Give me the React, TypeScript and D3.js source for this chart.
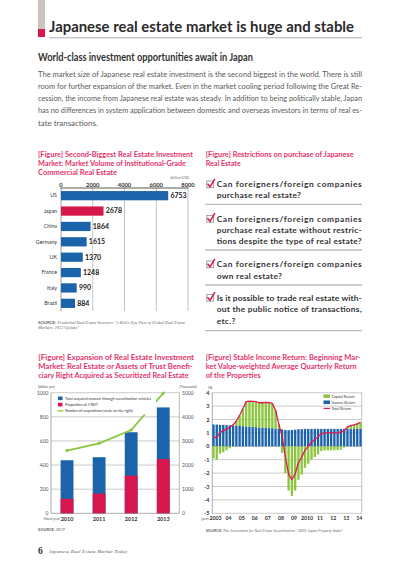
import React from 'react';
import * as d3 from 'd3';

// ---------- Data ----------
const countries = ['US', 'Japan', 'China', 'Germany', 'UK', 'France', 'Italy', 'Brazil'];
const marketVolume = [6753, 2678, 1864, 1615, 1370, 1248, 990, 884];
const volumeTicks = [0, 2000, 4000, 6000, 8000];

const fiscalYears = ['2010', '2011', '2012', '2013'];
const totalAcquired = [440, 465, 672, 878];
const jreitShare = [120, 163, 312, 450];
const acquisitions = [2600, 2900, 3450, 4980];
const leftTicks = [0, 200, 400, 600, 800, 1000];
const rightTicks = [0, 1000, 2000, 3000, 4000, 5000];

const years = ['2003', '2004', '2005', '2006', '2007', '2008', '2009', '2010', '2011', '2012', '2013', '2014'];
const yearLabels = ['2003', '04', '05', '06', '07', '08', '09', '2010', '11', '12', '13', '14'];
const quarters = years.flatMap((y) => ['Q1', 'Q2', 'Q3', 'Q4'].map((q) => y + q)).slice(0, 46);
const incomeReturn = [
  1.63, 1.62, 1.6, 1.6,
  1.58, 1.57, 1.55, 1.55,
  1.52, 1.5, 1.48, 1.47,
  1.45, 1.43, 1.4, 1.4,
  1.38, 1.36, 1.35, 1.33,
  1.3, 1.26, 1.22, 1.2,
  1.22, 1.24, 1.27, 1.28,
  1.3, 1.3, 1.3, 1.3,
  1.3, 1.3, 1.3, 1.3,
  1.3, 1.3, 1.3, 1.3,
  1.3, 1.3, 1.3, 1.3,
  1.3, 1.3,
];
const capitalReturn = [
  -0.9, -1.0, -0.55, -0.45,
  -0.3, -0.15, 0.05, 0.35,
  0.8, 1.3, 1.85, 1.9,
  1.9, 1.9, 1.85, 1.85,
  1.9, 1.9, 1.85, 1.35,
  0.35, -0.5, -2.0, -3.3,
  -3.7, -3.3, -2.5, -2.1,
  -1.6, -1.3, -1.0, -0.8,
  -0.6, -0.35, -0.3, -0.3,
  -0.3, -0.3, -0.28, -0.25,
  -0.1, 0.15, 0.25, 0.3,
  0.38, 0.48,
];
const totalReturn = [
  0.72, 0.62, 1.05, 1.15,
  1.28, 1.42, 1.6, 1.9,
  2.32, 2.8, 3.33, 3.37,
  3.35, 3.33, 3.25, 3.25,
  3.28, 3.26, 3.2, 2.68,
  1.65, 0.76, -0.78, -2.1,
  -2.48, -2.06, -1.23, -0.82,
  -0.3, 0.0, 0.3, 0.5,
  0.7, 0.95, 1.0, 1.0,
  1.0, 1.0, 1.02, 1.05,
  1.2, 1.45, 1.55, 1.6,
  1.68, 1.78,
];
const pctTicks = [4, 3, 2, 1, 0, -1, -2, -3, -4, -5];

const paragraph = [
  'The market size of Japanese real estate investment is the second biggest in the world. There is still',
  'room for further expansion of the market. Even in the market cooling period following the Great Re-',
  'cession, the income from Japanese real estate was steady. In addition to being politically stable, Japan',
  'has no differences in system application between domestic and overseas investors in terms of real es-',
  'tate transactions.',
];

const restrictions = [
  ['Can foreigners/foreign companies', 'purchase real estate?'],
  ['Can foreigners/foreign companies', 'purchase real estate without restric-', 'tions despite the type of real estate?'],
  ['Can foreigners/foreign companies', 'own real estate?'],
  ['Is it possible to trade real estate with-', 'out the public notice of transactions,', 'etc.?'],
];

// ---------- Style ----------
const SANS = 'Lato, "Noto Sans", sans-serif';
const SERIF = '"Liberation Serif", "DejaVu Serif", serif';
const PINK = '#e3346a';
const BLUE = '#1b63ab';
const RED = '#d7164c';
const GREEN = '#8cc63f';
const GRID = '#b5b5b5';

export default function App() {
  // chart 1
  const x1 = d3.scaleLinear().domain([0, 8000]).range([61, 188]);
  const y1 = d3.scaleBand().domain(countries).range([188, 311]).paddingInner(0.4).paddingOuter(0.2);

  // chart 3
  const yL = d3.scaleLinear().domain([0, 1000]).range([513.3, 392.7]);
  const yR = d3.scaleLinear().domain([0, 5000]).range([513.3, 392.7]);
  const xB = d3.scaleBand().domain(fiscalYears).range([51, 179.3]).paddingInner(0.6).paddingOuter(0.3);
  const acqLine = d3
    .line<number>()
    .x((_, i) => (xB(fiscalYears[i]) as number) + xB.bandwidth() / 2)
    .y((d) => yR(d));

  // chart 4
  const yP = d3.scaleLinear().domain([-5, 4]).range([513.3, 392.7]);
  const xQ = d3.scaleBand().domain(quarters).range([212.3, 361.7]).paddingInner(0.28).paddingOuter(0);
  const totLine = d3
    .line<number>()
    .x((_, i) => (xQ(quarters[i]) as number) + xQ.bandwidth() / 2)
    .y((d) => yP(d));

  const restrictionY = [
    [187.3, 198],
    [221.7, 233, 243.7],
    [267.3, 278.7],
    [300.7, 312.3, 323.7],
  ];
  const separatorY = [204.3, 250, 285, 330.7];
  const fullLines = new Set([
    'Can foreigners/foreign companies',
    'purchase real estate without restric-',
    'tions despite the type of real estate?',
    'Is it possible to trade real estate with-',
    'out the public notice of transactions,',
  ]);

  return (
    <svg
      width={400}
      height={566}
      viewBox="0 0 400 566"
      style={{ position: 'absolute', left: 0, top: 0, background: '#fff' }}
      fontFamily={SANS}
    >
      <rect x={0} y={0} width={400} height={566} fill="#fff" />
      {/* Header */}
      <rect x={38} y={0} width={7} height={29} fill="#cbc3c0" />
      <rect x={38} y={29} width={7} height={8} fill={RED} />
      <text x={49} y={31.5} fontSize={15.5} fontWeight={700} fill="#2a2a2a" textLength={305} lengthAdjust="spacingAndGlyphs">
        Japanese real estate market is huge and stable
      </text>
      <line x1={49} x2={362} y1={37.8} y2={37.8} stroke="#9a9a9a" strokeWidth={0.8} />
      <text x={38} y={60.5} fontSize={10.5} fontWeight={700} fill="#333" textLength={215} lengthAdjust="spacingAndGlyphs">
        World-class investment opportunities await in Japan
      </text>
      {paragraph.map((line, i) => (
        <text
          key={i}
          x={38}
          y={76.5 + i * 12.3}
          fontSize={7.9}
          fill="#5a5a5a"
          textLength={i < 4 ? 324 : undefined}
          lengthAdjust="spacingAndGlyphs"
        >
          {line}
        </text>
      ))}

      {/* Chart 1: horizontal bars */}
      {[
        '[Figure] Second-Biggest Real Estate Investment',
        'Market: Market Volume of Institutional-Grade',
        'Commercial Real Estate',
      ].map((t, i) => (
        <text key={i} x={38} y={156.5 + i * 9.3} fontSize={8} fontWeight={700} fill={PINK}
          textLength={[155, 148, 79][i]} lengthAdjust="spacingAndGlyphs">
          {t}
        </text>
      ))}
      <text x={189} y={179.3} fontSize={3.6} fontStyle="italic" fill="#555" textAnchor="end" fontFamily={SERIF}>
        (billion US$)
      </text>
      {volumeTicks.map((t) => (
        <g key={t}>
          <line x1={x1(t)} x2={x1(t)} y1={188} y2={311} stroke={t === 0 ? '#888' : GRID} strokeWidth={0.8} />
          <text x={x1(t)} y={186.5} fontSize={5.8} fontWeight={700} fill="#333" textAnchor="middle">
            {t}
          </text>
        </g>
      ))}
      <line x1={60.5} x2={188.5} y1={188} y2={188} stroke="#444" strokeWidth={0.9} />
      {countries.map((c, i) => {
        const y = y1(c) as number;
        const bw = y1.bandwidth();
        return (
          <g key={c}>
            <rect x={x1(0)} y={y} width={x1(marketVolume[i]) - x1(0)} height={bw} fill={c === 'Japan' ? RED : BLUE} />
            <text x={57} y={y + bw / 2 + 1.8} fontSize={5.3} fill="#333" textAnchor="end">
              {c}
            </text>
            <text x={x1(marketVolume[i]) + 2.2} y={y + bw / 2 + 2.4} fontSize={7} fontWeight={700} fill="#222">
              {marketVolume[i]}
            </text>
          </g>
        );
      })}
      <text x={38} y={323.5} fontSize={4.3} fill="#666">
        <tspan fontWeight={700}>SOURCE: </tspan>
        <tspan fontFamily={SERIF} fontStyle="italic">
          Prudential Real Estate Investors "A Bird's Eye View of Global Real Estate
        </tspan>
      </text>
      <text x={38} y={329} fontSize={4.3} fill="#666" fontFamily={SERIF} fontStyle="italic">
        Markets: 2012 Update"
      </text>

      {/* Chart 2: restrictions */}
      {['[Figure] Restrictions on purchase of Japanese', 'Real Estate'].map((t, i) => (
        <text key={i} x={205.7} y={156.5 + i * 9.5} fontSize={8} fontWeight={700} fill={PINK}
          textLength={[148, 35][i]} lengthAdjust="spacingAndGlyphs">
          {t}
        </text>
      ))}
      {restrictions.map((item, k) => {
        const cy = restrictionY[k][0] - 3;
        return (
          <g key={k}>
            <rect x={206.8} y={cy - 3.3} width={6.6} height={6.8} fill="#fff" stroke="#8a8a8a" strokeWidth={0.8} />
            <path
              d={`M${207.9},${cy} L${210},${cy + 2.6} L${214.6},${cy - 5}`}
              fill="none"
              stroke={RED}
              strokeWidth={1.5}
              strokeLinecap="round"
              strokeLinejoin="round"
            />
            {item.map((line, j) => (
              <text
                key={j}
                x={216.7}
                y={restrictionY[k][j]}
                fontSize={8.4}
                fontWeight={700}
                fill="#333"
                textLength={fullLines.has(line) ? 145 : undefined}
                lengthAdjust="spacing"
                letterSpacing={fullLines.has(line) ? undefined : 0.3}
              >
                {line}
              </text>
            ))}
            <line x1={205} x2={362} y1={separatorY[k]} y2={separatorY[k]} stroke="#bdbdbd" strokeWidth={1.3} />
          </g>
        );
      })}

      {/* Chart 3: stacked bars + line */}
      {[
        '[Figure] Expansion of Real Estate Investment',
        'Market: Real Estate or Assets of Trust Benefi-',
        'ciary Right Acquired as Securitized Real Estate',
      ].map((t, i) => (
        <text key={i} x={38.3} y={359.7 + i * 9.3} fontSize={8} fontWeight={700} fill={PINK}
          textLength={[155.7, 154.4, 150.4][i]} lengthAdjust="spacingAndGlyphs">
          {t}
        </text>
      ))}
      <text x={38} y={388.2} fontSize={3.4} fill="#555">(billion yen)</text>
      <text x={197} y={388.2} fontSize={3.4} fill="#555" textAnchor="end">(Thousands)</text>
      {leftTicks.map((t) => (
        <g key={t}>
          <line x1={51} x2={179.3} y1={yL(t)} y2={yL(t)} stroke={t === 0 ? '#888' : GRID} strokeWidth={0.7} />
          <text x={48.5} y={yL(t) + 1.9} fontSize={5} fill="#555" textAnchor="end">{t}</text>
        </g>
      ))}
      {rightTicks.map((t) => (
        <text key={t} x={182} y={yR(t) + 1.9} fontSize={5} fill="#555">{t}</text>
      ))}
      <line x1={51} x2={51} y1={392.7} y2={513.3} stroke="#888" strokeWidth={0.7} />
      <line x1={179.3} x2={179.3} y1={392.7} y2={513.3} stroke="#9aa58a" strokeWidth={0.7} />
      {fiscalYears.map((fy, i) => {
        const x = xB(fy) as number;
        const bw = xB.bandwidth();
        return (
          <g key={fy}>
            <rect x={x} y={yL(totalAcquired[i])} width={bw} height={yL(0) - yL(totalAcquired[i])} fill={BLUE} />
            <rect x={x} y={yL(jreitShare[i])} width={bw} height={yL(0) - yL(jreitShare[i])} fill={RED} />
            <text x={x + bw / 2} y={520.5} fontSize={5.5} fontWeight={700} fill="#333" textAnchor="middle">{fy}</text>
          </g>
        );
      })}
      <text x={60} y={520} fontSize={3.4} fill="#555" textAnchor="end">(fiscal year)</text>
      <path d={acqLine(acquisitions) as string} fill="none" stroke={GREEN} strokeWidth={1.8} />
      {acquisitions.map((a, i) => {
        const cx = (xB(fiscalYears[i]) as number) + xB.bandwidth() / 2;
        const cy = yR(a);
        return <path key={i} d={`M${cx},${cy - 2} L${cx + 2},${cy} L${cx},${cy + 2} L${cx - 2},${cy} Z`} fill={GREEN} />;
      })}
      {/* legend */}
      <rect x={56} y={394.5} width={100} height={20} fill="#fff" />
      {[
        { c: BLUE, t: 'Total acquired amount through securitization vehicles', kind: 'rect' },
        { c: RED, t: 'Proportion of J-REIT', kind: 'rect' },
        { c: GREEN, t: 'Number of acquisitions (scale on the right)', kind: 'line' },
      ].map((l, i) => {
        const cy = 398.3 + i * 6.3;
        return (
          <g key={i}>
            {l.kind === 'rect' ? (
              <rect x={58} y={cy - 1.8} width={4.5} height={3.6} fill={l.c} />
            ) : (
              <line x1={57.5} x2={63.5} y1={cy} y2={cy} stroke={l.c} strokeWidth={1.3} />
            )}
            <text x={65} y={cy + 1.3} fontSize={3.7} fill="#333">{l.t}</text>
          </g>
        );
      })}
      <text x={38} y={531} fontSize={4} fill="#666">
        <tspan fontWeight={700}>SOURCE: </tspan>
        <tspan fontFamily={SERIF} fontStyle="italic">MLIT</tspan>
      </text>

      {/* Chart 4: quarterly return */}
      {[
        '[Figure] Stable Income Return: Beginning Mar-',
        'ket Value-weighted Average Quarterly Return',
        'of the Properties',
      ].map((t, i) => (
        <text key={i} x={205.7} y={359.7 + i * 9.3} fontSize={8} fontWeight={700} fill={PINK}
          textLength={[155, 151, 55][i]} lengthAdjust="spacingAndGlyphs">
          {t}
        </text>
      ))}
      <text x={208} y={388.5} fontSize={3.4} fill="#555">(%)</text>
      {pctTicks.map((t) => (
        <g key={t}>
          <line x1={212.3} x2={361.7} y1={yP(t)} y2={yP(t)} stroke={t === 0 ? '#999' : GRID} strokeWidth={0.7} />
          <text x={209.5} y={yP(t) + 2} fontSize={5.5} fontWeight={700} fill="#333" textAnchor="end">{t}</text>
        </g>
      ))}
      <line x1={212.3} x2={212.3} y1={392.7} y2={513.3} stroke="#888" strokeWidth={0.7} />
      <line x1={361.7} x2={361.7} y1={392.7} y2={513.3} stroke="#aaa" strokeWidth={0.7} />
      {quarters.map((q, i) => {
        const x = xQ(q) as number;
        const bw = xQ.bandwidth();
        const inc = incomeReturn[i];
        const cap = capitalReturn[i];
        return (
          <g key={q}>
            <rect x={x} y={yP(inc)} width={bw} height={yP(0) - yP(inc)} fill={BLUE} />
            {cap >= 0 ? (
              <rect x={x} y={yP(inc + cap)} width={bw} height={yP(inc) - yP(inc + cap)} fill={GREEN} />
            ) : (
              <rect x={x} y={yP(0)} width={bw} height={yP(cap) - yP(0)} fill={GREEN} />
            )}
          </g>
        );
      })}
      <path d={totLine(totalReturn) as string} fill="none" stroke="#e0174f" strokeWidth={1.3} strokeLinejoin="round" />
      {years.map((y, i) => {
        const q1 = xQ(y + 'Q1') as number;
        const x = q1 + xQ.step();
        return (
          <text key={y} x={x} y={520.3} fontSize={5.2} fontWeight={700} fill="#333" textAnchor="middle">
            {yearLabels[i]}
          </text>
        );
      })}
      <text x={205} y={520} fontSize={3.2} fill="#555" textAnchor="middle">(year)</text>
      {/* legend */}
      {[
        { c: GREEN, t: 'Capital Return', kind: 'rect' },
        { c: BLUE, t: 'Income Return', kind: 'rect' },
        { c: '#e0174f', t: 'Total Return', kind: 'line' },
      ].map((l, i) => {
        const cy = 396.2 + i * 6.1;
        return (
          <g key={i}>
            {l.kind === 'rect' ? (
              <rect x={323.5} y={cy - 1.8} width={6.5} height={3.6} fill={l.c} />
            ) : (
              <line x1={323.5} x2={330} y1={cy} y2={cy} stroke={l.c} strokeWidth={1.2} />
            )}
            <text x={331.5} y={cy + 1.3} fontSize={3.7} fill="#333">{l.t}</text>
          </g>
        );
      })}
      <text x={205.7} y={532.3} fontSize={3.9} fill="#666">
        <tspan fontWeight={700}>SOURCE: </tspan>
        <tspan fontFamily={SERIF} fontStyle="italic">
          The Association for Real Estate Securitization "ARES Japan Property Index"
        </tspan>
      </text>

      {/* Footer */}
      <text x={38} y={553.5} fontSize={9.5} fontWeight={700} fill="#333" fontFamily={SERIF}>6</text>
      <text x={49} y={552.5} fontSize={5} fill="#555" fontFamily={SERIF} fontStyle="italic" letterSpacing={0.2}>
        Japanese Real Estate Market Today
      </text>
    </svg>
  );
}
